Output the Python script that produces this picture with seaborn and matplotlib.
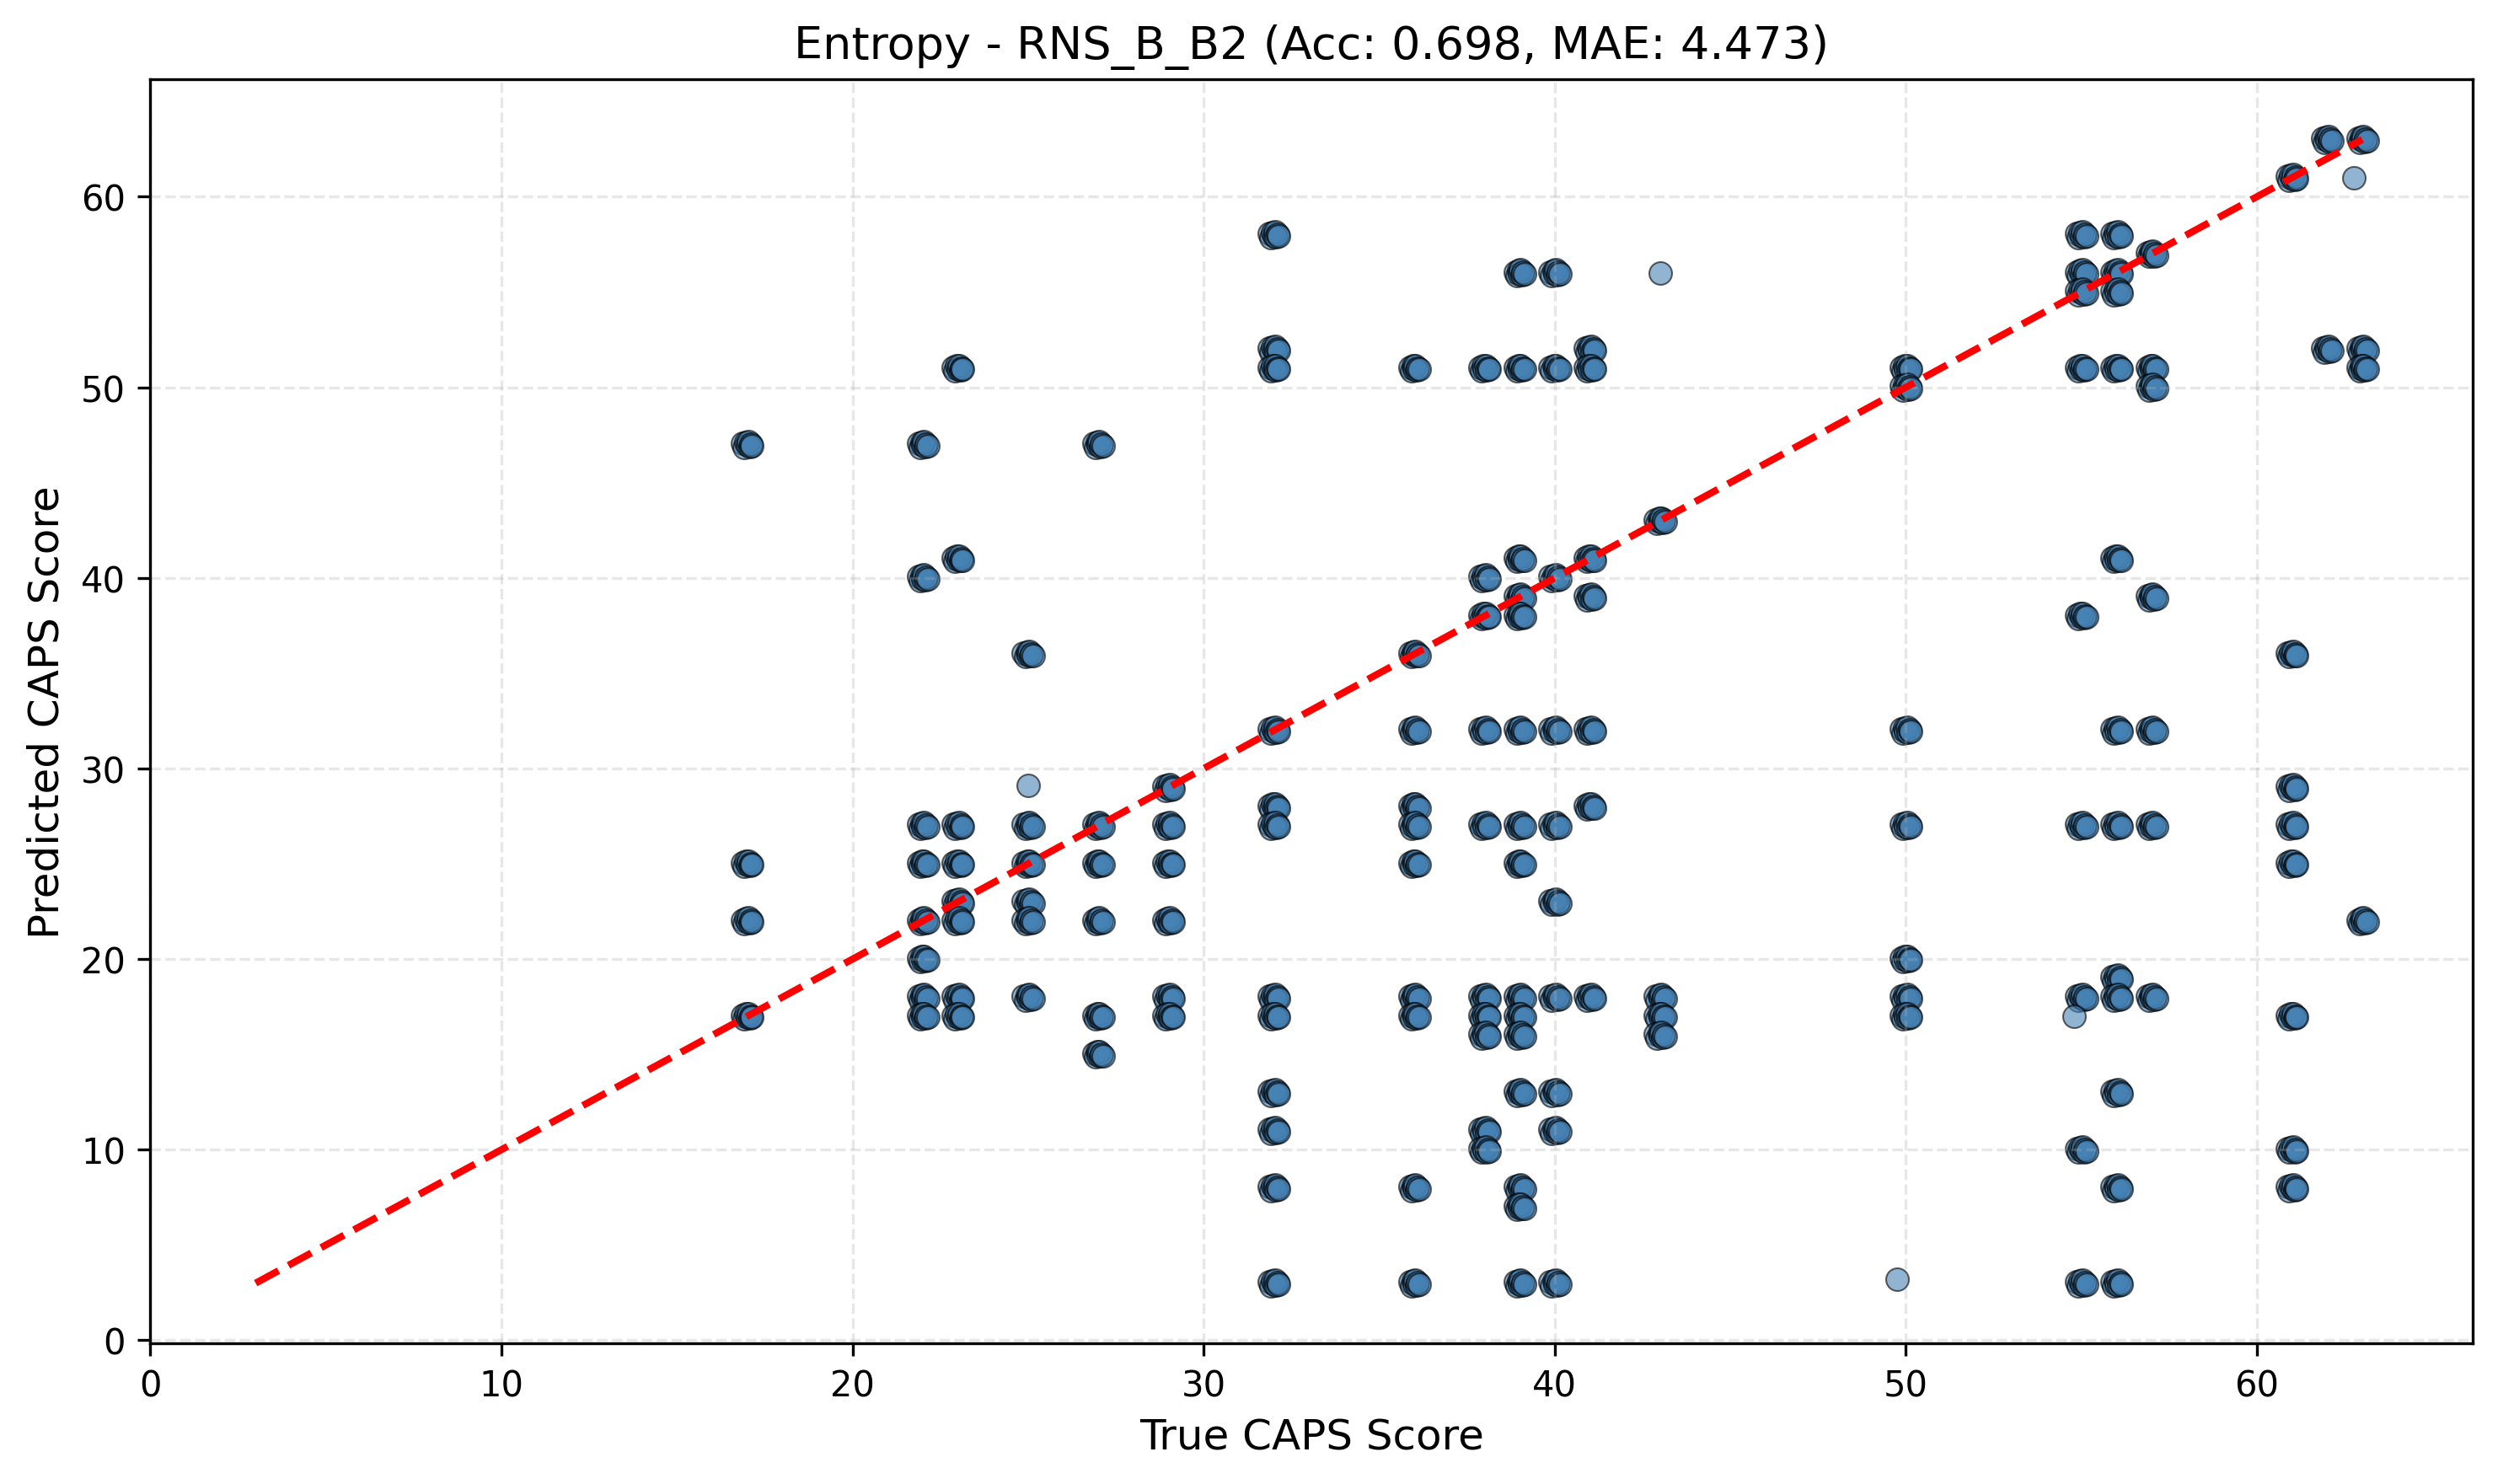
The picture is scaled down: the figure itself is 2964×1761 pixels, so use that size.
import numpy as np
import pandas as pd
import matplotlib
matplotlib.use("Agg")
import matplotlib.pyplot as plt
import seaborn as sns

# true CAPS scores and the predicted scores seen at each of them
true_scores = [17, 22, 23, 25, 27, 29, 32, 36, 38, 39, 40, 41, 43, 50, 55, 56, 57, 61, 62, 63]
pred_scores = [
    [47, 25, 22, 17],
    [47, 40, 27, 25, 22, 20, 18, 17],
    [51, 41, 27, 25, 23, 22, 18, 17],
    [36, 27, 25, 23, 22, 18],
    [47, 27, 25, 22, 17, 15],
    [29, 27, 25, 22, 18, 17],
    [58, 52, 51, 32, 28, 27, 18, 17, 13, 11, 8, 3],
    [51, 36, 32, 28, 27, 25, 18, 17, 8, 3],
    [51, 40, 38, 32, 27, 18, 17, 16, 11, 10],
    [56, 51, 41, 39, 38, 32, 27, 25, 18, 17, 16, 13, 8, 7, 3],
    [56, 51, 40, 32, 27, 23, 18, 13, 11, 3],
    [52, 51, 41, 39, 32, 28, 18],
    [43, 18, 17, 16],
    [51, 50, 32, 27, 20, 18, 17],
    [58, 56, 55, 51, 38, 27, 18, 10, 3],
    [58, 56, 55, 51, 41, 32, 27, 19, 18, 13, 8, 3],
    [57, 51, 50, 39, 32, 27, 18],
    [61, 36, 29, 27, 25, 17, 10, 8],
    [63, 52],
    [63, 52, 51, 22],
]

# points that sit alone (not stacked)
lone_true = [25.0, 43.0, 49.75, 54.8, 62.75]
lone_pred = [29.1, 56.0, 3.2, 17.0, 61.0]

# small spread of the stacked points around each pair
jit_x = [-0.13, -0.08, -0.03, 0.0, 0.03, 0.07, 0.1, 0.14]
jit_y = [0.06, -0.14, 0.12, -0.04, 0.15, -0.1, 0.02, -0.06]

line_ends = [3, 63]

rows = []
for t, preds in zip(true_scores, pred_scores):
    for p in preds:
        for dx, dy in zip(jit_x, jit_y):
            rows.append((t + dx, p + dy))
for t, p in zip(lone_true, lone_pred):
    rows.append((t, p))
df = pd.DataFrame(rows, columns=["true", "pred"])

fig = plt.figure(figsize=(9.88, 5.8733), dpi=300)
ax = fig.add_axes([0.0601, 0.0948, 0.9298, 0.8513])

sns.scatterplot(data=df, x="true", y="pred", ax=ax, s=42, color="steelblue",
                alpha=0.6, edgecolor="k", linewidth=0.5)
ax.plot(line_ends, line_ends, "r--", lw=2)

ax.set_xlabel("True CAPS Score", fontsize=12)
ax.set_ylabel("Predicted CAPS Score", fontsize=12)
ax.set_title("Entropy - RNS_B_B2 (Acc: 0.698, MAE: 4.473)", fontsize=13)
ax.grid(True, linestyle="--", alpha=0.3)

fig.savefig("out.png", dpi=300)
